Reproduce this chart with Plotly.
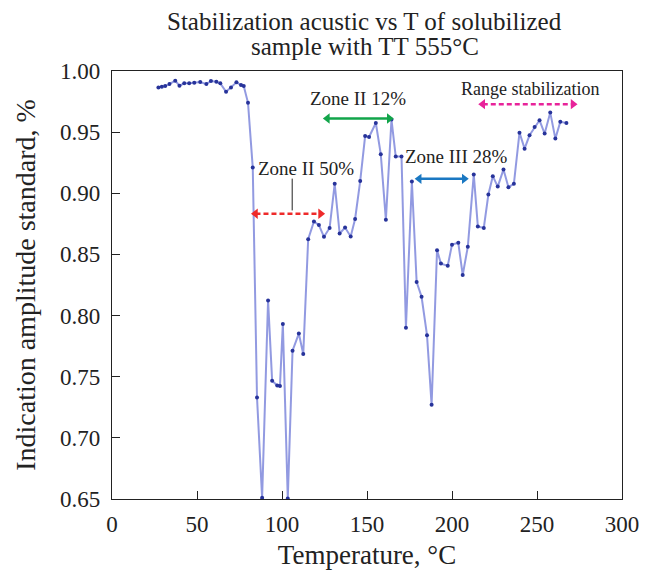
import plotly.graph_objects as go

# temperature (C) and normalized indication amplitude
temperature = [
    27.3, 29.3, 31.3, 33.8, 37.2, 39.7, 42.5, 45.4, 48.4, 51.9,
    55.5, 58.2, 61.4, 63.7, 67.1, 70.0, 73.2, 75.9, 77.5, 80.0,
    82.8, 85.3, 88.3, 91.8, 94.2, 97.2, 98.8, 100.5, 103.4, 106.2,
    109.9, 112.5, 115.4, 118.8, 121.7, 124.7, 128.0, 131.0, 133.9, 137.1,
    140.4, 143.0, 146.0, 148.9, 151.2, 155.2, 158.1, 161.1, 164.4, 166.9,
    170.3, 172.9, 176.4, 179.2, 182.1, 185.3, 188.0, 191.2, 193.5, 197.5,
    200.0, 203.7, 206.3, 209.3, 212.8, 215.2, 218.7, 221.4, 224.0, 226.9,
    230.3, 233.2, 236.4, 239.7, 242.7, 245.6, 248.6, 251.5, 254.5, 257.8,
    260.8, 263.7, 267.3,
]
amplitude = [
    0.9866, 0.9871, 0.9877, 0.9893, 0.9921, 0.9880, 0.9899, 0.9899, 0.9904, 0.9910,
    0.9893, 0.9918, 0.9912, 0.9899, 0.9830, 0.9866, 0.9907, 0.9885, 0.9877, 0.9740,
    0.9210, 0.7330, 0.6510, 0.8124, 0.7467, 0.7428, 0.7425, 0.7932, 0.6505, 0.7713,
    0.7853, 0.7685, 0.8625, 0.8770, 0.8740, 0.8644, 0.8716, 0.9077, 0.8671, 0.8720,
    0.8647, 0.8790, 0.9100, 0.9468, 0.9460, 0.9575, 0.9320, 0.8784, 0.9603, 0.9300,
    0.9300, 0.7900, 0.9096, 0.8274, 0.8154, 0.7840, 0.7270, 0.8535, 0.8425, 0.8408,
    0.8580, 0.8595, 0.8332, 0.8562, 0.9154, 0.8729, 0.8716, 0.8990, 0.9140, 0.9055,
    0.9195, 0.9050, 0.9077, 0.9496, 0.9365, 0.9474, 0.9542, 0.9597, 0.9488, 0.9660,
    0.9447, 0.9584, 0.9575,
]

# zone markers: label, label position, arrow span, arrow level, colour, dashed
zone_labels = ["Zone II 50%", "Zone II 12%", "Zone III 28%", "Range stabilization"]
zone_label_x = [113.9, 144.7, 202.8, 245.7]
zone_label_y = [0.9203, 0.9778, 0.930, 0.9852]
zone_start = [84.4, 126.7, 180.7, 218.1]
zone_end = [122.7, 163.1, 207.2, 271.2]
zone_level = [0.8833, 0.9611, 0.9118, 0.9729]
zone_colors = ["#ee2a2a", "#12a54a", "#1a78c2", "#e8239a"]
zone_dashed = [True, False, False, True]
zone_font_size = [19, 19, 19, 18]

title_lines = ["Stabilization acustic vs T of solubilized", "sample with TT 555°C"]

x_ticks = [0, 50, 100, 150, 200, 250, 300]
y_ticks = [0.65, 0.70, 0.75, 0.80, 0.85, 0.90, 0.95, 1.00]

SERIF = "Liberation Serif, Times New Roman, serif"

fig = go.Figure()
fig.add_trace(
    go.Scatter(
        x=temperature,
        y=amplitude,
        mode="lines+markers",
        line=dict(color="rgba(110,120,215,0.75)", width=2),
        marker=dict(color="#27339a", size=4),
        showlegend=False,
    )
)

for i in range(len(zone_labels)):
    # double headed arrow: line with triangle markers at both ends
    fig.add_trace(
        go.Scatter(
            x=[zone_start[i], zone_end[i]],
            y=[zone_level[i], zone_level[i]],
            mode="lines+markers",
            line=dict(color=zone_colors[i], width=2.5,
                      dash="5px,3px" if zone_dashed[i] else "solid"),
            marker=dict(symbol=["triangle-left", "triangle-right"], size=9,
                        color=zone_colors[i]),
            showlegend=False,
            hoverinfo="skip",
        )
    )
    fig.add_annotation(
        x=zone_label_x[i], y=zone_label_y[i], text=zone_labels[i],
        showarrow=False, font=dict(family=SERIF, size=zone_font_size[i], color="#222"),
    )

# leader line from "Zone II 50%" down to the red arrow
fig.add_shape(type="line", x0=106.0, x1=106.0, y0=0.886, y1=0.912,
              line=dict(color="#222", width=1))

# two-line title, placed line by line for tight spacing
for line, ty in zip(title_lines, [1.1168, 1.0568]):
    fig.add_annotation(
        x=0.496, y=ty, xref="paper", yref="paper", text=line, showarrow=False,
        xanchor="center", yanchor="middle",
        font=dict(family=SERIF, size=25, color="#222"),
    )

# page body has an 8px margin, so the margins below are shifted by it
fig.update_layout(
    width=650,
    height=572,
    margin=dict(l=104, r=36, t=63, b=81),
    paper_bgcolor="white",
    plot_bgcolor="white",
    font=dict(family=SERIF, color="#222"),
    xaxis=dict(
        range=[0, 300],
        tickvals=x_ticks,
        ticks="inside", ticklen=8, tickcolor="#222",
        showline=True, linecolor="#222", linewidth=1.2, mirror=True,
        showgrid=False, zeroline=False, automargin=False,
        tickfont=dict(size=23), ticklabelstandoff=4,
        title=dict(text="Temperature, °C", font=dict(size=27), standoff=9),
    ),
    yaxis=dict(
        range=[0.65, 1.0],
        tickvals=y_ticks,
        tickformat=".2f",
        ticks="inside", ticklen=8, tickcolor="#222",
        showline=True, linecolor="#222", linewidth=1.2, mirror=True,
        showgrid=False, zeroline=False, automargin=False,
        tickfont=dict(size=23), ticklabelstandoff=6,
        title=dict(text="Indication amplitude standard, %", font=dict(size=28), standoff=16),
    ),
)

fig.write_html("out.html")
